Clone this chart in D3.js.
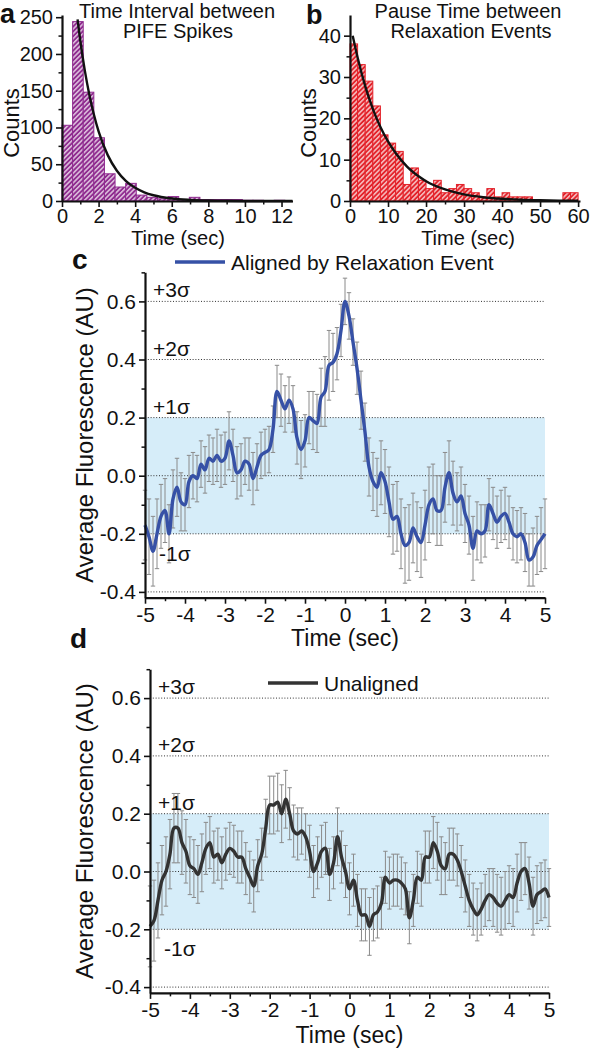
<!DOCTYPE html>
<html><head><meta charset="utf-8">
<script src="https://cdn.jsdelivr.net/npm/d3@7"></script>
<style>
html,body{margin:0;padding:0;background:#fff;}
svg{display:block;}
text{font-family:"Liberation Sans",Arial,Helvetica,sans-serif;fill:#111;}
</style>
</head><body>
<svg id="chart" width="590" height="1050"></svg>
<script>
// ---------------- DATA ----------------
// Panel a: histogram of time intervals between PIFE spikes
const aBinWidth = 0.58;
const aCounts = [103, 244, 148, 86, 37, 19, 24, 8, 5, 3, 6, 2, 5, 2, 2, 2, 2, 1, 1, 0, 1];
const aFitTime = [0.85, 1.0, 1.25, 1.5, 1.75, 2.0, 2.5, 3.0, 3.5, 4.0, 4.5, 5.0, 6.0, 7.0, 8.0, 9.0, 10.0, 11.0, 12.0, 12.6];
const aFitCount = [247, 218, 177, 144, 117, 94.7, 62.4, 41.2, 27.1, 17.9, 11.8, 7.8, 3.4, 1.5, 0.6, 0.3, 0.1, 0.05, 0.02, 0.01];
const aXTicks = [0, 2, 4, 6, 8, 10, 12];
const aYTicks = [0, 50, 100, 150, 200, 250];

// Panel b: histogram of pause time between relaxation events
const bBinWidth = 2;
const bCounts = [38, 33, 29, 23, 16, 14, 12, 4, 8, 5, 3, 5, 2, 3, 4, 3, 2, 1, 3, 1, 2, 1, 1, 1, 0, 0, 0, 0, 2, 2];
const bFitTime = [0.7, 2, 4, 6, 8, 10, 12, 15, 20, 25, 30, 35, 40, 45, 50, 55, 60];
const bFitCount = [40, 34.7, 27.8, 22.3, 17.9, 14.4, 11.6, 8.3, 4.8, 2.8, 1.6, 0.92, 0.53, 0.31, 0.18, 0.10, 0.06];
const bXTicks = [0, 10, 20, 30, 40, 50, 60];
const bYTicks = [0, 10, 20, 30, 40];

// Panels c & d: averaged fluorescence traces
const traceTime = d3.range(101).map(i => +(-5 + i * 0.1).toFixed(1));
const cMean = [-0.17,-0.21,-0.26,-0.20,-0.14,-0.12,-0.20,-0.08,-0.04,-0.09,
 -0.10,-0.02,0.00,-0.01,0.04,0.02,0.06,0.05,0.07,0.05,
 0.06,0.12,0.07,0.01,0.02,0.05,0.04,-0.01,0.03,0.07,
 0.08,0.09,0.16,0.29,0.26,0.23,0.26,0.23,0.13,0.09,
 0.12,0.20,0.19,0.18,0.27,0.29,0.38,0.39,0.42,0.50,
 0.60,0.55,0.46,0.37,0.26,0.15,0.03,-0.02,-0.04,0.01,
 -0.02,-0.09,-0.15,-0.14,-0.20,-0.24,-0.23,-0.18,-0.21,-0.23,
 -0.17,-0.10,-0.08,-0.12,-0.12,-0.04,0.01,-0.06,-0.09,-0.07,
 -0.13,-0.17,-0.25,-0.19,-0.20,-0.19,-0.10,-0.13,-0.16,-0.14,
 -0.13,-0.16,-0.20,-0.21,-0.20,-0.23,-0.29,-0.28,-0.24,-0.22,
 -0.20];
const cErr = [0.12,0.13,0.12,0.12,0.11,0.11,0.10,0.10,0.10,0.10,
 0.09,0.09,0.08,0.08,0.08,0.08,0.08,0.08,0.09,0.09,
 0.09,0.10,0.09,0.09,0.09,0.08,0.09,0.09,0.08,0.08,
 0.08,0.08,0.08,0.09,0.09,0.08,0.08,0.08,0.09,0.10,
 0.09,0.09,0.10,0.10,0.10,0.12,0.12,0.10,0.09,0.09,
 0.08,0.08,0.08,0.09,0.10,0.10,0.10,0.10,0.10,0.11,
 0.11,0.12,0.12,0.12,0.12,0.13,0.13,0.12,0.12,0.12,
 0.12,0.13,0.12,0.12,0.12,0.12,0.11,0.11,0.10,0.10,
 0.10,0.10,0.11,0.10,0.10,0.09,0.09,0.09,0.09,0.09,
 0.09,0.09,0.09,0.09,0.09,0.10,0.09,0.10,0.10,0.11,
 0.12];
const dMean = [-0.19,-0.17,-0.10,-0.03,0.00,0.06,0.15,0.15,0.10,0.07,
 0.02,0.01,-0.01,0.03,0.08,0.10,0.05,0.06,0.03,0.06,
 0.08,0.07,0.05,0.05,0.01,-0.02,-0.05,0.02,0.06,0.15,
 0.23,0.23,0.24,0.20,0.25,0.20,0.14,0.13,0.14,0.12,
 0.07,0.00,0.03,0.07,0.08,-0.01,0.03,0.12,0.05,0.00,
 -0.06,-0.03,-0.10,-0.15,-0.15,-0.19,-0.15,-0.14,-0.11,-0.02,
 -0.04,-0.03,-0.03,-0.04,-0.06,-0.16,-0.10,-0.02,-0.03,0.05,
 0.05,0.10,0.07,0.02,0.01,0.06,0.06,0.04,0.00,-0.05,
 -0.10,-0.13,-0.15,-0.13,-0.10,-0.08,-0.09,-0.11,-0.12,-0.10,
 -0.08,-0.09,-0.04,0.00,0.01,-0.04,-0.12,-0.08,-0.07,-0.06,
 -0.09];
const dErr = [0.14,0.14,0.13,0.12,0.12,0.12,0.12,0.12,0.11,0.11,
 0.10,0.10,0.10,0.10,0.09,0.09,0.09,0.09,0.09,0.09,
 0.09,0.09,0.09,0.09,0.09,0.09,0.09,0.09,0.09,0.10,
 0.10,0.10,0.10,0.10,0.10,0.09,0.09,0.09,0.08,0.08,
 0.09,0.09,0.09,0.09,0.09,0.09,0.09,0.10,0.09,0.09,
 0.09,0.09,0.09,0.09,0.09,0.10,0.09,0.09,0.09,0.09,
 0.09,0.09,0.09,0.09,0.09,0.09,0.09,0.09,0.09,0.09,
 0.09,0.09,0.10,0.10,0.09,0.09,0.09,0.09,0.09,0.09,
 0.09,0.09,0.09,0.09,0.09,0.09,0.10,0.10,0.10,0.10,
 0.10,0.10,0.10,0.10,0.09,0.09,0.10,0.10,0.10,0.10,
 0.10];
const traceXTicks = [-5, -4, -3, -2, -1, 0, 1, 2, 3, 4, 5];
const traceYTicks = [-0.4, -0.2, 0.0, 0.2, 0.4, 0.6];
const refLevels = [0.6, 0.4, 0.2, 0.0, -0.2, -0.4];
const sigmaLevels = [0.6, 0.4, 0.2, -0.2];
const sigmaLabels = ["+3σ", "+2σ", "+1σ", "-1σ"];
const bandRange = [-0.2, 0.2];

// ---------------- DRAWING ----------------
const svg = d3.select("#chart");
const defs = svg.append("defs");
function hatch(id, color) {
  const p = defs.append("pattern").attr("id", id).attr("patternUnits", "userSpaceOnUse")
    .attr("width", 3.4).attr("height", 3.4).attr("patternTransform", "rotate(45)");
  p.append("rect").attr("width", 3.4).attr("height", 3.4).attr("fill", color);
  p.append("line").attr("x1", 0.8).attr("y1", 0).attr("x2", 0.8).attr("y2", 3.4)
    .attr("stroke", "#fff").attr("stroke-width", 1.1);
}
hatch("hatchA", "#8f2b8f");
hatch("hatchB", "#e3222a");

function styleAxis(g, sw) {
  g.select(".domain").attr("stroke", "#111").attr("stroke-width", sw);
  g.selectAll(".tick line").attr("stroke", "#111").attr("stroke-width", 1.6);
  g.selectAll(".tick text").attr("fill", "#111").style("font-family", '"Liberation Sans",Arial,sans-serif');
}
function drawAxes(g, x, y, xTicks, xMinor, yTicks, yMinor, xFmt, yFmt, fs, xPad) {
  const ay = g.append("g").attr("transform", `translate(${x.range()[0]},0)`)
    .call(d3.axisLeft(y).tickValues(yTicks).tickFormat(yFmt).tickSize(6).tickPadding(3).tickSizeOuter(0));
  styleAxis(ay, 2.2); ay.selectAll("text").style("font-size", fs + "px");
  const aym = g.append("g").attr("transform", `translate(${x.range()[0]},0)`)
    .call(d3.axisLeft(y).tickValues(yMinor).tickFormat("").tickSize(3.5).tickSizeOuter(0));
  aym.select(".domain").remove(); aym.selectAll("line").attr("stroke", "#111").attr("stroke-width", 1.5);
  const ax = g.append("g").attr("transform", `translate(0,${y.range()[0]})`)
    .call(d3.axisBottom(x).tickValues(xTicks).tickFormat(xFmt).tickSize(6).tickPadding(xPad).tickSizeOuter(0));
  styleAxis(ax, 2.2); ax.selectAll("text").style("font-size", fs + "px");
  const axm = g.append("g").attr("transform", `translate(0,${y.range()[0]})`)
    .call(d3.axisBottom(x).tickValues(xMinor).tickFormat("").tickSize(3.5).tickSizeOuter(0));
  axm.select(".domain").remove(); axm.selectAll("line").attr("stroke", "#111").attr("stroke-width", 1.5);
}
function label(t, x, y, fs, opts = {}) {
  const e = svg.append("text").attr("x", x).attr("y", y).attr("font-size", fs)
    .attr("text-anchor", opts.anchor || "middle").text(t);
  if (opts.bold) e.attr("font-weight", "bold");
  if (opts.rotate) e.attr("transform", `rotate(-90,${x},${y})`);
  return e;
}

// ---- histogram panels ----
function histPanel(counts, binW, fitT, fitC, xDom, yDom, xRange, yRange, xTicks, xMinor, yTicks, yMinor, fill, stroke) {
  const x = d3.scaleLinear().domain(xDom).range(xRange);
  const y = d3.scaleLinear().domain(yDom).range(yRange);
  const g = svg.append("g");
  g.selectAll("rect.bar").data(counts).join("rect").attr("class", "bar")
    .attr("x", (d, i) => x(i * binW)).attr("width", (d, i) => x((i + 1) * binW) - x(i * binW))
    .attr("y", d => y(d)).attr("height", d => y(0) - y(d))
    .attr("fill", fill).attr("stroke", stroke).attr("stroke-width", 1);
  const fit = fitT.map((t, i) => [t, fitC[i]]);
  g.append("path").datum(fit).attr("fill", "none").attr("stroke", "#111").attr("stroke-width", 2.4)
    .attr("d", d3.line().x(d => x(d[0])).y(d => y(d[1])).curve(d3.curveMonotoneX));
  drawAxes(g, x, y, xTicks, xMinor, yTicks, yMinor, d3.format("d"), d3.format("d"), 20, 2);
  return g;
}
histPanel(aCounts, aBinWidth, aFitTime, aFitCount, [0, 12.6], [0, 253], [62, 292.5], [201, 15],
  aXTicks, [1, 3, 5, 7, 9, 11], aYTicks, [25, 75, 125, 175, 225], "url(#hatchA)", "#8f2b8f");
histPanel(bCounts, bBinWidth, bFitTime, bFitCount, [0, 60.5], [0, 45], [350, 580], [201, 15],
  bXTicks, [5, 15, 25, 35, 45, 55], bYTicks, [5, 15, 25, 35], "url(#hatchB)", "#e3222a");

label("a", 0, 23, 27, {anchor: "start", bold: true});
label("b", 306, 24, 27, {anchor: "start", bold: true});
label("Time Interval between", 177, 18, 20);
label("PIFE Spikes", 178, 38, 20);
label("Pause Time between", 468, 18, 20);
label("Relaxation Events", 471, 38, 20);
label("Counts", 19, 123, 22, {rotate: true});
label("Counts", 316, 123, 22, {rotate: true});
label("Time (sec)", 178, 245, 20);
label("Time (sec)", 468, 245, 20);

// ---- trace panels ----
function tracePanel(mean, err, xRange, y0, pxPerUnit, color, legendText, legendX, legendY, sigmaDx, titleY) {
  const x = d3.scaleLinear().domain([-5, 5]).range(xRange);
  const y = d3.scaleLinear().domain([-0.42, 0.7]).range([y0 + 0.42 * pxPerUnit, y0 - 0.7 * pxPerUnit]);
  const g = svg.append("g");
  g.append("rect").attr("x", x(-5)).attr("width", x(5) - x(-5))
    .attr("y", y(bandRange[1])).attr("height", y(bandRange[0]) - y(bandRange[1])).attr("fill", "#d6edf9");
  g.selectAll("line.ref").data(refLevels).join("line").attr("class", "ref")
    .attr("x1", x(-5)).attr("x2", x(5)).attr("y1", d => y(d)).attr("y2", d => y(d))
    .attr("stroke", "#333").attr("stroke-width", 1).attr("stroke-dasharray", "1,1.8");
  const pts = traceTime.map((t, i) => ({t, m: mean[i], e: err[i]}));
  const eb = g.append("g").attr("stroke", "#8a8a8a").attr("stroke-width", 1);
  eb.selectAll("line.v").data(pts).join("line").attr("class", "v")
    .attr("x1", d => x(d.t)).attr("x2", d => x(d.t)).attr("y1", d => y(d.m - d.e)).attr("y2", d => y(d.m + d.e));
  eb.selectAll("line.ct").data(pts).join("line").attr("class", "ct")
    .attr("x1", d => x(d.t) - 2.2).attr("x2", d => x(d.t) + 2.2).attr("y1", d => y(d.m + d.e)).attr("y2", d => y(d.m + d.e));
  eb.selectAll("line.cb").data(pts).join("line").attr("class", "cb")
    .attr("x1", d => x(d.t) - 2.2).attr("x2", d => x(d.t) + 2.2).attr("y1", d => y(d.m - d.e)).attr("y2", d => y(d.m - d.e));
  g.append("path").datum(pts).attr("fill", "none").attr("stroke", color).attr("stroke-width", 3.4)
    .attr("stroke-linejoin", "round")
    .attr("d", d3.line().x(d => x(d.t)).y(d => y(d.m)).curve(d3.curveCatmullRom.alpha(0.5)));
  drawAxes(g, x, y, traceXTicks, [-4.5, -3.5, -2.5, -1.5, -0.5, 0.5, 1.5, 2.5, 3.5, 4.5],
    traceYTicks, [-0.3, -0.1, 0.1, 0.3, 0.5, 0.7], d => String(d), d => d.toFixed(1), 21, 3);
  sigmaLevels.forEach((s, i) => {
    const up = s > 0;
    label(sigmaLabels[i], x(-5) + (up ? sigmaDx : sigmaDx + 6), up ? y(s) - 4 : y(s) + 27, 21, {anchor: "start"});
  });
  g.append("line").attr("x1", legendX).attr("x2", legendX + 50).attr("y1", legendY).attr("y2", legendY)
    .attr("stroke", color).attr("stroke-width", 3.4);
  label(legendText, legendX + 56, legendY + 7.5, 21, {anchor: "start"});
  label("Average Fluorescence (AU)", 93, (y(0.7) + y(-0.42)) / 2, 24, {rotate: true});
  label("Time (sec)", (x(-5) + x(5)) / 2, titleY, 23);
}
tracePanel(cMean, cErr, [145, 545], 475.7, 290.5, "#3651a6", "Aligned by Relaxation Event", 175, 262, 8, 646);
tracePanel(dMean, dErr, [150, 549], 871.5, 289, "#333333", "Unaligned", 268, 683, 8, 1043);
label("c", 72, 269, 28, {anchor: "start", bold: true});
label("d", 70, 648, 28, {anchor: "start", bold: true});
</script>
</body></html>
